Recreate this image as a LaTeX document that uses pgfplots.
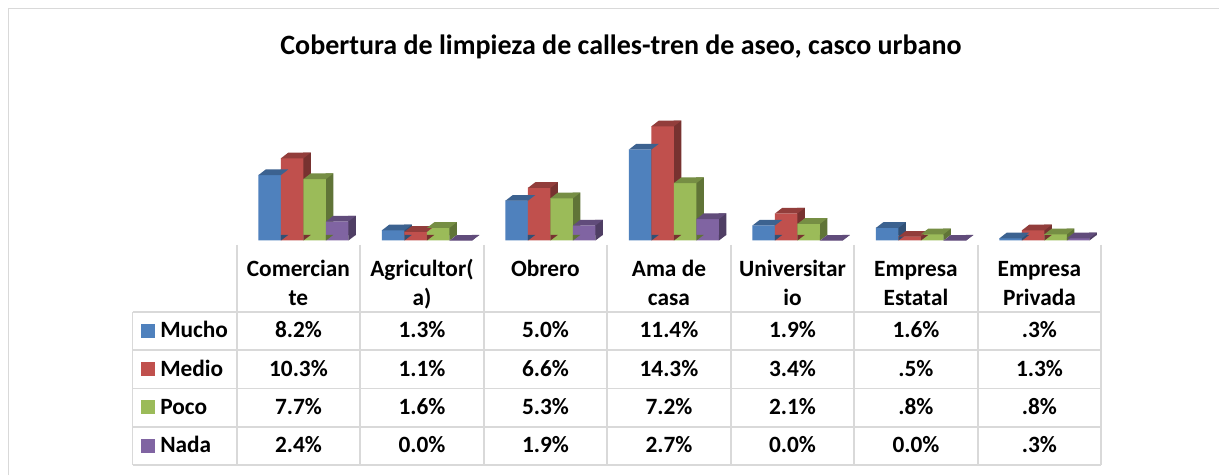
\documentclass[border=0pt]{standalone}
\usepackage{pgfplots}
\pgfplotsset{compat=1.18}
\usepackage{pgfplotstable}
\usepackage{fontspec}
\setmainfont{Carlito}

\definecolor{cMucho}{HTML}{4F81BD}
\definecolor{cMedio}{HTML}{C0504D}
\definecolor{cPoco}{HTML}{9BBB59}
\definecolor{cNada}{HTML}{8064A2}
\definecolor{gridc}{HTML}{D9D9D9}

% bar geometry (pt): front width 16.875, depth dx 5.5, dy 4.1
\pgfdeclareplotmark{topface}{%
  \pgfpathmoveto{\pgfpoint{-8.44pt}{-0.15pt}}%
  \pgfpathlineto{\pgfpoint{8.44pt}{-0.15pt}}%
  \pgfpathlineto{\pgfpoint{13.94pt}{4.1pt}}%
  \pgfpathlineto{\pgfpoint{-2.94pt}{4.1pt}}%
  \pgfpathclose\pgfusepathqfill}
\pgfdeclareplotmark{bottri}{%
  \pgfpathmoveto{\pgfpoint{8.3pt}{0pt}}%
  \pgfpathlineto{\pgfpoint{8.3pt}{4.2pt}}%
  \pgfpathlineto{\pgfpoint{13.94pt}{4.2pt}}%
  \pgfpathlineto{\pgfpoint{8.44pt}{0pt}}%
  \pgfpathclose\pgfusepathqfill}

\pgfplotstableread{
x mucho medio poco nada
0 8.2 10.3 7.7 2.4
1 1.3 1.1 1.6 0.0
2 5.0 6.6 5.3 1.9
3 11.4 14.3 7.2 2.7
4 1.9 3.4 2.1 0.0
5 1.6 0.5 0.8 0.0
6 0.3 1.3 0.8 0.3
}\datatable

% #1 column, #2 colour, #3 shift (pt)
\newcommand{\barseries}[3]{%
  \addplot[ybar, bar width=5.8pt, bar shift=0pt, draw=none, fill=#2!62!black,
           xshift=#3pt+11.1pt, yshift=4.1pt] table[x=x,y=#1]{\datatable};
  \addplot[only marks, mark=bottri, color=#2!62!black, xshift=#3pt] table[x=x,y expr=0]{\datatable};
  \addplot[ybar, bar width=16.875pt, bar shift=0pt, draw=none, fill=#2,
           xshift=#3pt] table[x=x,y=#1]{\datatable};
  \addplot[only marks, mark=topface, color=#2!76!black, xshift=#3pt] table[x=x,y=#1]{\datatable};
}
\tikzset{tx/.style={anchor=base, inner sep=0pt, font=\fontsize{17.5}{20}\selectfont\bfseries}}
\newcommand{\Y}[1]{475-(#1)}

\begin{document}
\begin{tikzpicture}[x=0.75pt,y=0.75pt]
\path[use as bounding box] (0,0) rectangle (1219,475);
\fill[white] (0,0) rectangle (1219,475);
\draw[gridc, line width=1.2pt] (8.5,0) -- (8.5,{\Y{8.5}}) -- (1219,{\Y{8.5}});

\node[font=\fontsize{21}{24}\selectfont\bfseries, anchor=base] at (621,{\Y{55}}) {Cobertura de limpieza de calles-tren de aseo, casco urbano};

\coordinate (A) at (236.7,{\Y{240.5}});
\begin{axis}[at={(A)}, anchor=south west,
  scale only axis, hide axis, clip=false,
  x=92.625pt, y=6pt,
  xmin=-0.5, xmax=6.5, ymin=0, ymax=16]
  \barseries{mucho}{cMucho}{-21.56}
  \barseries{medio}{cMedio}{-4.69}
  \barseries{poco}{cPoco}{12.19}
  \barseries{nada}{cNada}{29.06}
\end{axis}

% data table grid
\begin{scope}[gridc, line width=1.3pt]
  \foreach \yy in {312,350.3,388.6,426.9,465.2} \draw (132.5,{\Y{\yy}}) -- (1101.2,{\Y{\yy}});
  \draw (132.5,{\Y{312}}) -- (132.5,{\Y{465.2}});
  \foreach \k in {0,...,7} \draw ({236.7+123.5*\k},{\Y{245}}) -- ({236.7+123.5*\k},{\Y{465.2}});
\end{scope}

% header
\foreach \k/\a/\b in {0/Comercian/te, 1/Agricultor(/a), 2/Obrero/, 3/Ama de/casa, 4/Universitar/io, 5/Empresa/Estatal, 6/Empresa/Privada} {
  \node[tx] at ({298.45+123.5*\k},{\Y{276}}) {\a};
  \node[tx] at ({298.45+123.5*\k},{\Y{305}}) {\b};
}
% legend keys
\foreach \r/\c/\n in {0/cMucho/Mucho, 1/cMedio/Medio, 2/cPoco/Poco, 3/cNada/Nada} {
  \fill[\c] (141,{\Y{323.7+38.3*\r}}) rectangle (155,{\Y{337.7+38.3*\r}});
  \node[tx, anchor=base west] at (160,{\Y{337.7+38.3*\r}}) {\n};
}
% values
\foreach \k/\a/\b/\c/\d in {0/8.2\%/10.3\%/7.7\%/2.4\%, 1/1.3\%/1.1\%/1.6\%/0.0\%, 2/5.0\%/6.6\%/5.3\%/1.9\%, 3/11.4\%/14.3\%/7.2\%/2.7\%, 4/1.9\%/3.4\%/2.1\%/0.0\%, 5/1.6\%/.5\%/.8\%/0.0\%, 6/.3\%/1.3\%/.8\%/.3\%} {
  \node[tx] at ({298.45+123.5*\k},{\Y{337.7}}) {\a};
  \node[tx] at ({298.45+123.5*\k},{\Y{376}}) {\b};
  \node[tx] at ({298.45+123.5*\k},{\Y{414.3}}) {\c};
  \node[tx] at ({298.45+123.5*\k},{\Y{452.6}}) {\d};
}
\end{tikzpicture}
\end{document}
